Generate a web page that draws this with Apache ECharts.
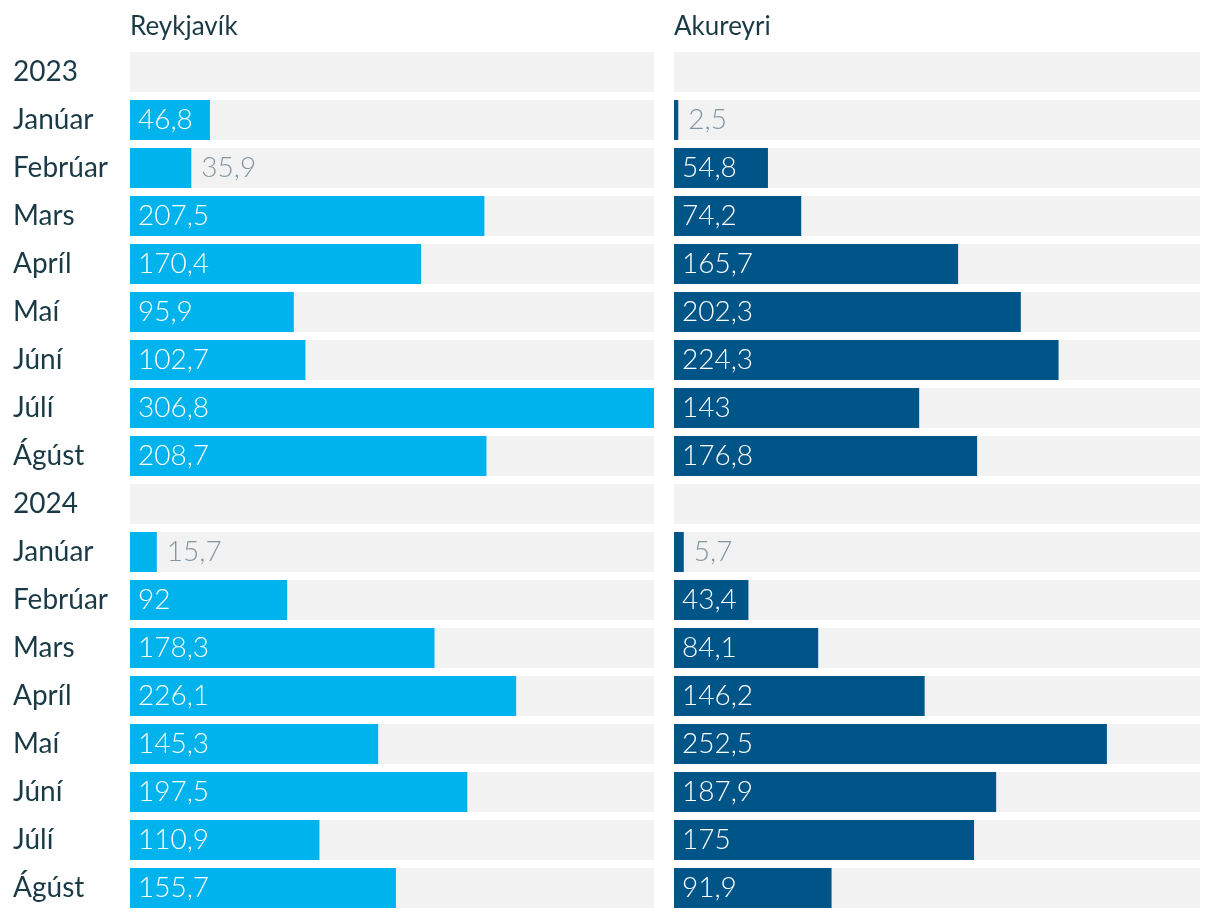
<!DOCTYPE html>
<html>
<head>
<meta charset="utf-8">
<script src="https://cdn.jsdelivr.net/npm/echarts@6/dist/echarts.min.js"></script>
<style>
html,body{margin:0;padding:0;background:#fff;}
#c{width:1220px;height:918px;}
</style>
</head>
<body>
<div id="c"></div>
<script>
var categories = ['2023','Janúar','Febrúar','Mars','Apríl','Maí','Júní','Júlí','Ágúst','2024','Janúar','Febrúar','Mars','Apríl','Maí','Júní','Júlí','Ágúst'];
var panelTitles = ['Reykjavík','Akureyri'];
var reykjavik = [null,46.8,35.9,207.5,170.4,95.9,102.7,306.8,208.7,null,15.7,92,178.3,226.1,145.3,197.5,110.9,155.7];
var akureyri = [null,2.5,54.8,74.2,165.7,202.3,224.3,143,176.8,null,5.7,43.4,84.1,146.2,252.5,187.9,175,91.9];
var axisMax = 306.8;

var TEXT = '#1a3a46';
var FONT = 'Lato';
function fmt(v){ return String(v).replace('.', ','); }
function items(arr){
  return arr.map(function(v){
    if (v === null) return '-';
    var inside = v >= 40;
    return {
      value: v,
      label: inside ? {position:'insideLeft', distance:8, color:'#ffffff'} : {position:'right', distance:10, color:'#8196a0'}
    };
  });
}
var bgData = categories.map(function(){ return axisMax; });

var chart = echarts.init(document.getElementById('c'), null, {renderer:'canvas'});
var grids = [
  {left:130, top:48, width:524, height:864},
  {left:674, top:48, width:526, height:864}
];
var labelBase = {show:true, fontFamily:FONT, fontWeight:300, fontSize:28, padding:[4,0,0,0], formatter:function(p){return fmt(p.value);}};
chart.setOption({
  animation:false,
  title: [
    {text:panelTitles[0], left:125, top:9, textStyle:{fontFamily:FONT, fontWeight:'normal', fontSize:26, color:TEXT}},
    {text:panelTitles[1], left:669, top:9, textStyle:{fontFamily:FONT, fontWeight:'normal', fontSize:26, color:TEXT}}
  ],
  grid: grids,
  xAxis: [0,1].map(function(i){ return {type:'value', gridIndex:i, min:0, max:axisMax, show:false}; }),
  yAxis: [0,1].map(function(i){ return {
    type:'category', gridIndex:i, data:categories, inverse:true,
    axisLine:{show:false}, axisTick:{show:false}, splitLine:{show:false},
    axisLabel:{show:i===0, align:'left', margin:117, padding:[4,0,0,0], fontFamily:FONT, fontSize:28, color:TEXT}
  }; }),
  series: [
    {type:'bar', xAxisIndex:0, yAxisIndex:0, data:bgData, barWidth:40, barGap:'-100%', itemStyle:{color:'#f2f2f2'}, silent:true, z:1},
    {type:'bar', xAxisIndex:0, yAxisIndex:0, data:items(reykjavik), barWidth:40, itemStyle:{color:'#00b3ec'}, label:labelBase, z:2},
    {type:'bar', xAxisIndex:1, yAxisIndex:1, data:bgData, barWidth:40, barGap:'-100%', itemStyle:{color:'#f2f2f2'}, silent:true, z:1},
    {type:'bar', xAxisIndex:1, yAxisIndex:1, data:items(akureyri), barWidth:40, itemStyle:{color:'#005588'}, label:labelBase, z:2}
  ]
});
</script>
</body>
</html>
